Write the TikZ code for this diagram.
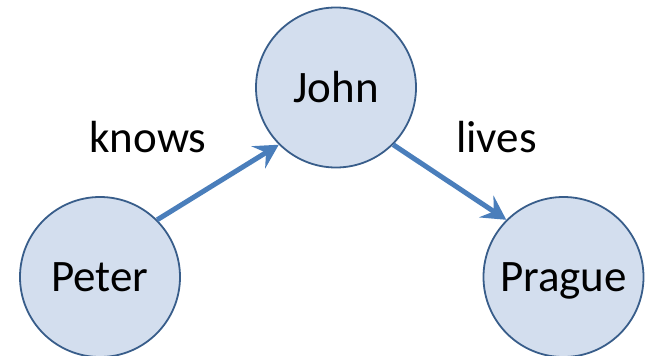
\documentclass[tikz,border=0pt]{standalone}
\usepackage{fontspec}
\setmainfont{Carlito}
\usetikzlibrary{arrows.meta}
\definecolor{nodefill}{RGB}{211,222,238}
\definecolor{nodeline}{RGB}{56,93,138}
\definecolor{arrowblue}{RGB}{74,126,187}
\tikzset{
  entity/.style={circle, draw=nodeline, fill=nodefill, line width=1.8pt, minimum size=160pt, inner sep=0pt,
    font=\fontsize{45}{54}\selectfont, text height=29pt, text depth=0pt},
  rel/.style={draw=arrowblue, line width=5pt, -{Stealth[length=24pt, width=26pt, inset=9pt]}},
  edgelabel/.style={anchor=base, inner sep=0pt, font=\fontsize{45}{54}\selectfont}
}
\begin{document}
\begin{tikzpicture}[x=1pt, y=-1pt]
\useasboundingbox (0,0) rectangle (646,356);
\node[entity] (john) at (336,87.5) {John};
\node[entity] (peter) at (100,277) {Peter};
\node[entity] (prague) at (563.5,277) {Prague};
\draw[rel] (peter.45) -- (john.225);
\draw[rel] (john.315) -- (prague.135);
\node[edgelabel] (knows) at (148,152.5) {knows};
\node[edgelabel] (lives) at (496.5,152.5) {lives};
\end{tikzpicture}
\end{document}
